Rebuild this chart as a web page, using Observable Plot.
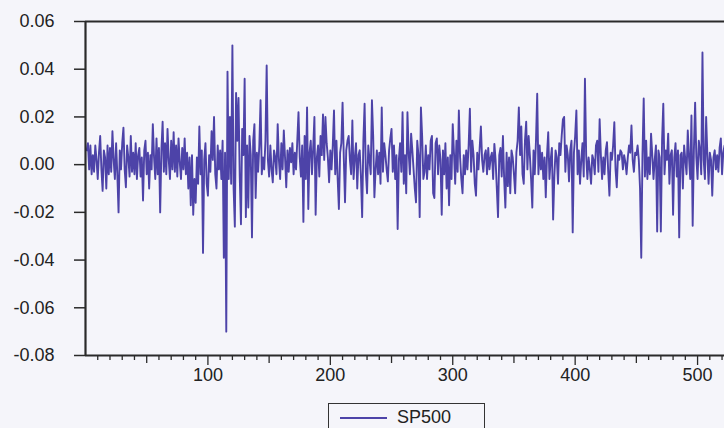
<!DOCTYPE html>
<html><head><meta charset="utf-8">
<script src="https://cdn.jsdelivr.net/npm/d3@7"></script>
<script src="https://cdn.jsdelivr.net/npm/@observablehq/plot@0.6"></script>
<style>
html,body{margin:0;padding:0;background:#f5f5fa;}
#wrap{position:relative;width:724px;height:428px;overflow:hidden;font-family:"Liberation Sans",Arial,sans-serif;}
#legend{position:absolute;left:328px;top:403px;width:157px;height:34px;border:1px solid #333;box-sizing:border-box;}
#legend .sw{position:absolute;left:11px;top:13px;width:47px;height:0;border-top:2px solid #4d43a8;}
#legend .lb{position:absolute;left:68px;top:3px;font-size:18px;color:#222;}
</style>
</head><body>
<div id="wrap"><div id="chart"></div><div id="legend"><span class="sw"></span><span class="lb">SP500</span></div></div>
<script>
const seriesName = "SP500";
const sp500 = [
.006,.009,-.002,.008,-.004,.004,-.003,.008,.002,-.006,
.005,.012,-.002,-.011,.006,.003,-.010,.008,-.004,.007,
-.003,.014,.002,-.006,.009,-.004,-.020,.006,-.002,.009,
.0155,-.002,-.0095,.008,.003,-.005,.012,-.003,.005,-.004,
.009,-.006,.004,.007,-.005,.003,-.015,.006,.010,-.004,
.005,-.010,.004,-.002,.017,.003,-.006,.011,-.004,.007,
-.020,.006,.018,-.003,.009,-.004,.015,.002,-.006,.010,
-.002,.0136,-.003,.008,-.005,.011,.001,-.006,.007,-.002,
.011,-.004,.005,-.010,.003,-.017,.004,-.021,-.006,-.016,
.003,-.008,.016,-.004,.006,-.037,.002,.009,-.008,-.013,
.004,-.003,.014,.002,.020,-.004,-.010,.008,-.002,.006,
-.006,.010,-.039,.005,-.070,.039,-.006,.020,-.008,.050,
-.010,-.026,.030,.010,.028,-.005,-.025,.015,.004,.036,
-.022,.008,-.018,.012,.004,-.0305,.010,.017,-.014,.005,
-.003,.008,.027,-.004,.003,-.002,.010,.0416,.002,-.005,
.008,-.002,-.0074,.006,.003,-.004,.017,.002,-.006,.009,
-.002,.0143,.003,-.0095,.006,-.003,.007,.001,.009,-.004,
.005,-.002,.010,.022,.003,-.005,.008,-.024,.012,-.006,
.024,-.0186,.005,.010,-.004,.007,.020,-.021,.003,.008,
-.005,.012,.004,.021,.002,.020,.009,.003,-.0074,.006,
-.002,.008,.0227,-.004,.010,-.006,-.0186,.005,.009,.026,
.003,-.0158,.006,.010,.012,.002,-.004,.0185,-.006,.003,
.009,-.010,.004,.006,-.005,-.022,.010,.0255,-.003,-.012,
.008,.002,-.004,.027,.012,-.0137,-.002,.006,-.004,.005,
-.008,.024,-.003,.009,.004,-.002,-.007,.006,.011,.015,
-.003,.008,-.006,.004,-.027,.002,.009,-.003,.022,-.008,
.004,-.012,.022,.005,-.004,.013,.006,-.002,-.010,-.0158,
.010,.004,-.022,.024,.012,-.006,-.003,.008,-.006,.004,
-.002,.010,.012,-.012,-.014,.009,.011,-.004,.008,.002,
-.021,.006,-.004,.009,-.010,.003,-.017,.004,-.006,.017,
.005,-.008,.010,-.003,.0227,.003,-.006,-.012,.004,-.004,
.006,-.002,.008,.0234,-.003,.010,.004,-.008,-.013,.005,
-.002,.007,.016,.002,-.003,.004,.006,-.004,.007,-.002,
.003,.005,-.006,.0087,.002,-.010,-.022,.004,.007,-.005,
.012,-.006,-.018,.005,-.009,.003,-.012,.006,.003,-.004,
-.012,.005,.010,.024,.004,.016,-.004,-.008,.010,.018,
-.002,.012,.004,-.006,-.018,.006,-.004,.010,.0297,-.004,
.008,-.002,.005,-.006,.003,-.0137,.004,.0136,-.006,.002,
.007,-.023,-.005,.006,.003,-.008,.009,.004,.012,.019,
.020,-.003,.008,.004,-.007,.006,.010,-.0284,.005,.012,
.0227,-.004,.006,-.008,.002,.009,-.005,.036,.004,-.006,
.003,-.002,-.008,.004,.002,-.004,.008,.010,-.003,.019,
.004,-.006,.003,-.004,.006,.0094,-.003,-.013,.005,.002,
.008,.0178,-.002,-.0095,.004,.002,.006,.005,-.002,.004,
.001,-.004,.003,.008,.005,.0164,.002,-.003,.005,.004,
.008,.002,-.010,-.039,.004,.0277,-.005,.010,-.006,.003,
-.004,.013,.004,-.006,.002,.008,-.028,.006,.003,-.028,
.010,.0255,-.004,.006,.002,.013,-.008,.004,.006,-.021,
.003,.009,-.005,.006,-.0305,.004,.005,-.010,.008,.002,
-.004,.0143,.003,-.006,.0206,-.0256,.006,.026,.003,-.006,
.010,.006,-.004,.047,.002,-.006,.020,.004,-.008,.005,
.002,-.013,.003,.006,-.002,.004,-.003,.007,.011,-.004,
.005,.008
];
const yTicks = [-0.08,-0.06,-0.04,-0.02,0.00,0.02,0.04,0.06];
const xLabelTicks = [100,200,300,400,500];
const xMidTicks = [50,150,250,350,450];
const xMinorTicks = d3.range(10,522,10).filter(d => d % 50 !== 0);

const data = sp500.map((v,i) => ({obs: i+1, value: v}));
const lineColor = "#4d43a8";
const axisColor = "#2a2a2a";

const chart = Plot.plot({
  width: 724, height: 398,
  marginLeft: 85, marginRight: 0, marginTop: 21, marginBottom: 43,
  style: {background: "transparent", fontFamily: "'Liberation Sans', Arial, sans-serif", color: "#222"},
  x: {domain: [0, 522], axis: null},
  y: {domain: [-0.08, 0.06], axis: null},
  marks: [
    Plot.line(data, {x: "obs", y: "value", stroke: lineColor, strokeWidth: 1.9}),
    Plot.axisY({ticks: yTicks, tickSize: 11, tickPadding: 20, fontSize: 18, label: null, stroke: axisColor, strokeWidth: 1.5, tickFormat: d => d.toFixed(2)}),
    Plot.axisX({ticks: xMinorTicks, tickSize: 5, label: null, stroke: axisColor, strokeWidth: 1.3, tickFormat: () => ""}),
    Plot.axisX({ticks: xMidTicks, tickSize: 8, label: null, stroke: axisColor, strokeWidth: 1.3, tickFormat: () => ""}),
    Plot.axisX({ticks: xLabelTicks, tickSize: 10, tickPadding: 3, fontSize: 18, label: null, stroke: axisColor, strokeWidth: 1.3, tickFormat: d => String(d)}),
    Plot.ruleY([-0.08], {stroke: axisColor, strokeWidth: 2}),
    Plot.ruleY([0.06], {stroke: axisColor, strokeWidth: 2}),
    Plot.ruleX([0], {stroke: axisColor, strokeWidth: 2.2})
  ]
});
document.getElementById("chart").appendChild(chart);
</script>
</body></html>
